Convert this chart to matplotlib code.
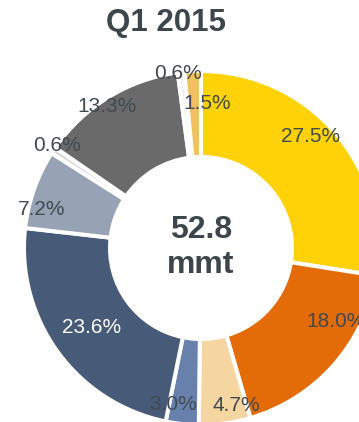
import numpy as np
import matplotlib.pyplot as plt

# Q1 2015 shares (%), clockwise from 12 o'clock
shares = [27.5, 18.0, 4.7, 3.0, 23.6, 7.2, 0.6, 13.3, 0.6, 1.5]
colors = ["#FFD208", "#E36C09", "#F6D6A0", "#6881AC", "#475A78",
          "#97A2B5", "#D9D9D9", "#6A6A6A", "#F2F2F2", "#F1C15E"]
label_colors = ["#404A4F"] * 4 + ["white"] + ["#404A4F"] * 5
# label placement tweaks: angle nudge (deg, clockwise) and distance from centre
label_nudge = [-5, -13, -5, 4, 0, -6, 2, -2, -1, 5]
label_dist = [156, 154, 161, 159, 135, 164, 177, 170, 176, 145]
total = "52.8"
unit = "mmt"
title = "Q1 2015"

W, H = 359, 422
cx, cy = 201, H - 248
R = 177

fig = plt.figure(figsize=(W / 100, H / 100), dpi=100)
ax = fig.add_axes([0, 0, 1, 1])

wedges, _ = ax.pie(shares, colors=colors, startangle=90, counterclock=False,
                   center=(cx, cy), radius=R,
                   wedgeprops=dict(width=86, edgecolor="white", linewidth=2.9))

# percentage labels
for w, s, col, nudge, dist in zip(wedges, shares, label_colors, label_nudge, label_dist):
    mid = np.deg2rad((w.theta1 + w.theta2) / 2 - nudge)
    ax.text(cx + dist * np.cos(mid), cy + dist * np.sin(mid), f"{s:.1f}%",
            ha="center", va="center", fontsize=15, color=col,
            family="Liberation Sans")

ax.text(cx, cy + 18, total, ha="center", va="center", fontsize=23,
        fontweight="bold", color="#3D464B", family="Liberation Sans")
ax.text(cx, cy - 17, unit, ha="center", va="center", fontsize=23,
        fontweight="bold", color="#3D464B", family="Liberation Sans")
ax.text(166, H - 23, title, ha="center", va="center", fontsize=22.5,
        fontweight="bold", color="#3D464B", family="Liberation Sans")

ax.set_xlim(0, W)
ax.set_ylim(0, H)
ax.set_aspect("auto")
ax.axis("off")

fig.savefig("out.png", dpi=100)
